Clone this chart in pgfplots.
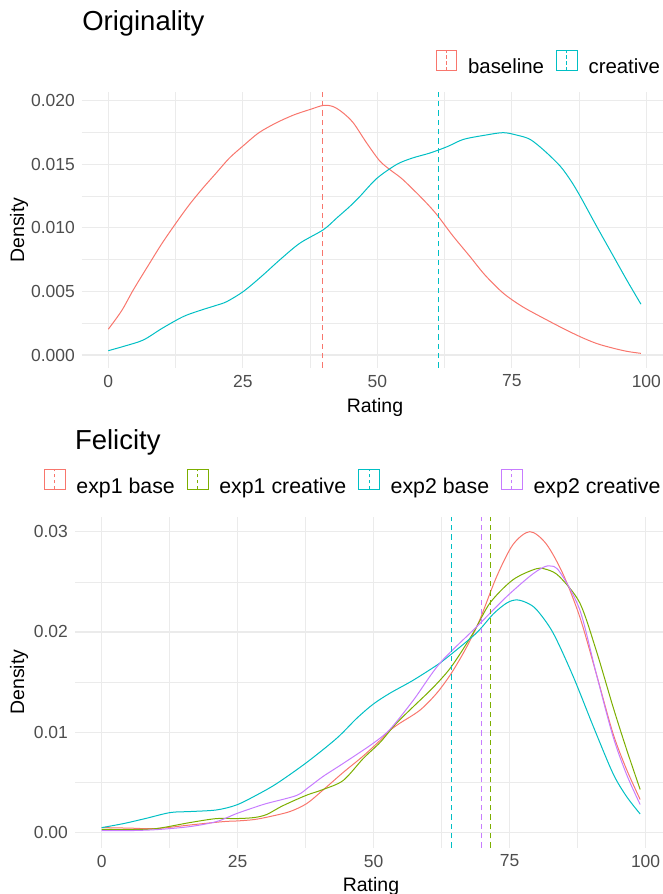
\documentclass[border=0pt]{standalone}
\usepackage{pgfplots}
\pgfplotsset{compat=1.18}
\usepackage{fontspec}
\setmainfont{Liberation Sans}
\definecolor{cA}{HTML}{F8766D}
\definecolor{cB}{HTML}{7CAE00}
\definecolor{cC}{HTML}{00BFC4}
\definecolor{cD}{HTML}{C77CFF}
\definecolor{tickgray}{HTML}{4D4D4D}
\definecolor{gridmaj}{HTML}{EBEBEB}
\pgfplotsset{
 gg/.style={
  scale only axis,
  axis line style={draw=none},
  tick style={draw=none},
  grid=both,
  major grid style={color=gridmaj, line width=0.8pt},
  minor grid style={color=gridmaj, line width=0.4pt},
  tick label style={font=\fontsize{13.1}{15}\selectfont, color=tickgray, inner sep=0pt},
  xticklabel style={yshift=-5.2pt},
  yticklabel style={xshift=-5pt},
  scaled y ticks=false,
  xtick={0,25,50,75,100},
  xticklabels={0,25,50,75,100},
  minor xtick={12.5,37.5,62.5,87.5},
  legend columns=-1,
  legend style={draw=none, fill=none, inner sep=0pt, outer sep=0pt,
    font=\fontsize{15.3}{18}\selectfont, legend cell align=left,
    nodes={inner sep=0pt},
    /tikz/every even column/.append style={column sep=9pt},
    /tikz/every odd column/.append style={column sep=8.25pt}},
  legend image code/.code={
    \draw[#1, solid, line width=0.6pt] (0pt,-2.3pt) rectangle (15.5pt,12.7pt);
    \draw[#1, line width=0.6pt, dash pattern=on 2.5pt off 2pt] (7.75pt,-2.3pt) -- (7.75pt,12.7pt);
  },
  every axis plot/.append style={line width=0.75pt},
 }
}
\begin{document}
\begin{tikzpicture}
\path[use as bounding box] (0pt,0pt) rectangle (497.25pt,-670.5pt);

\begin{axis}[gg,
  at={(61.275pt,-69pt)}, anchor=north west,
  width=435.98pt, height=206.78pt,
  xmin=-4.95, xmax=103.1,
  ymin=-0.001, ymax=0.0207,
  ytick={0,0.005,0.01,0.015,0.02},
  yticklabels={0.000,0.005,0.010,0.015,0.020},
  minor ytick={0.0025,0.0075,0.0125,0.0175},
  legend style={at={(rel axis cs:0.9948,1.1052)}, anchor=east},
]
\addplot[cA, smooth] coordinates {
(0,0.00203) (2.5,0.0035) (4.65,0.00513) (7.7,0.00724) (10,0.0088) (12.6,0.0104)
(15,0.0118) (17.5,0.0131) (20,0.0143) (22.5,0.0155) (25,0.01644) (28,0.0175)
(31.3,0.01829) (34.5,0.0189) (37.6,0.01934) (40,0.01965) (41.8,0.01955)
(43.5,0.0191) (45.5,0.01829) (48,0.0167) (50.4,0.0153) (52.3,0.0146) (54.5,0.0139)
(57.3,0.01276) (59.5,0.0118) (61.3,0.01092) (64,0.0094) (67.2,0.00776) (70,0.0063)
(73.4,0.00487) (77,0.0038) (81.5,0.00276) (84.5,0.0021) (87.7,0.00144) (90.8,0.0009)
(93.9,0.00053) (96.5,0.00028) (99,0.00013)};
\addlegendentry{baseline}
\addplot[cC, smooth] coordinates {
(0,0.00034) (3,0.0007) (6.5,0.00118) (10,0.0021) (13.9,0.00302) (17,0.0035) (20,0.0039)
(22,0.0042) (25.1,0.005) (28.5,0.0062) (31.9,0.0075) (35.6,0.0088) (40,0.00987)
(42.5,0.0108) (44.9,0.0117) (46.8,0.0125) (49.9,0.0139) (53.6,0.015) (56.5,0.0155)
(59.8,0.0159) (63,0.0164) (66,0.01697) (70,0.0173) (73.4,0.0175) (76,0.0173)
(78.4,0.01697) (81,0.0161) (84,0.01486) (86,0.0137) (87.7,0.0125) (90.8,0.0101)
(93.9,0.00776) (96.5,0.0058) (99,0.004)};
\addlegendentry{creative}
\addplot[cA, forget plot, line width=0.6pt, dash pattern=on 4pt off 3pt] coordinates {(39.7,-0.001) (39.7,0.0207)};
\addplot[cC, forget plot, line width=0.6pt, dash pattern=on 4pt off 3pt] coordinates {(61.3,-0.001) (61.3,0.0207)};
\end{axis}

\begin{axis}[gg,
  at={(56.1pt,-387.45pt)}, anchor=north west,
  width=441.15pt, height=248.3pt,
  xmin=-4.95, xmax=103.2,
  ymin=-0.0015, ymax=0.0315,
  ytick={0,0.01,0.02,0.03},
  yticklabels={0.00,0.01,0.02,0.03},
  minor ytick={0.005,0.015,0.025},
  legend style={at={(rel axis cs:-0.0524,1.1045)}, anchor=west, font=\fontsize{16}{19}\selectfont},
]
\addplot[cA, smooth] coordinates {
(0,0.0005) (5,0.00045) (10,0.0004) (16.2,0.00076) (22.4,0.0011) (24.8,0.00116) (28,0.0013)
(30.9,0.0016) (34.6,0.0021) (37.7,0.0029) (40.7,0.00425) (44.4,0.0060) (48,0.0076)
(51.2,0.0092) (53,0.0102) (54.8,0.0109) (58.5,0.0122) (61.6,0.0139) (64.3,0.0159)
(67.1,0.0185) (69.5,0.0212) (72.6,0.0255) (75.6,0.0287) (78.7,0.030) (81.7,0.0288)
(84.8,0.0258) (87.9,0.0215) (90.9,0.0159) (94,0.0099) (96.5,0.0063) (99,0.0033)};
\addlegendentry{exp1 base}
\addplot[cB, smooth] coordinates {
(0,0.00033) (5,0.0003) (10,0.0004) (16.2,0.001) (21.1,0.0014) (24.8,0.0014) (28,0.0015)
(30.3,0.0018) (33,0.0026) (35.8,0.0033) (38,0.0038) (40.7,0.0043) (44.4,0.0052)
(48.1,0.0074) (51.2,0.0090) (54,0.0108) (57.3,0.01256) (61,0.0145) (64.3,0.01655)
(68.3,0.0199) (71.4,0.0229) (75.6,0.0252) (79.9,0.0263) (82,0.0262) (84.2,0.0255)
(87.9,0.0229) (90.9,0.0182) (94,0.01256) (96.5,0.0083) (99,0.0043)};
\addlegendentry{exp1 creative}
\addplot[cC, smooth] coordinates {
(0,0.0005) (4,0.0009) (8,0.0014) (12.6,0.002) (16.2,0.0021) (21.1,0.00226) (24.8,0.00276)
(28.5,0.00375) (32.2,0.0049) (37.7,0.0070) (43.2,0.0094) (46.9,0.0114) (49.9,0.0128)
(53,0.0139) (57.3,0.0152) (62.2,0.0169) (64.3,0.0178) (68.9,0.0199) (72,0.0218)
(74.5,0.0229) (76.3,0.0232) (78.2,0.0229) (80,0.0222) (83,0.0199) (86.7,0.01555)
(90.4,0.01056) (94,0.0059) (96.5,0.0036) (99,0.00186)};
\addlegendentry{exp2 base}
\addplot[cD, smooth] coordinates {
(0,0.0002) (5,0.0002) (10.1,0.0003) (16.2,0.0006) (21.1,0.0011) (24.8,0.0019) (28,0.0025)
(30.3,0.0029) (35.8,0.0037) (38,0.0045) (40.7,0.0056) (44.4,0.0069) (49.9,0.0089)
(53,0.0103) (57.3,0.0132) (62.2,0.0169) (68.9,0.0205) (74.4,0.0235) (79.3,0.0258)
(82.1,0.0266) (84.2,0.026) (87.9,0.0222) (90.9,0.0159) (94,0.0096) (96.5,0.0058) (99,0.0028)};
\addlegendentry{exp2 creative}
\addplot[cA, forget plot, line width=0.6pt, dash pattern=on 4pt off 3pt] coordinates {(71.5,-0.0015) (71.5,0.0315)};
\addplot[cB, forget plot, line width=0.6pt, dash pattern=on 4pt off 3pt] coordinates {(71.5,-0.0015) (71.5,0.0315)};
\addplot[cC, forget plot, line width=0.6pt, dash pattern=on 4pt off 3pt] coordinates {(64.3,-0.0015) (64.3,0.0315)};
\addplot[cD, forget plot, line width=0.6pt, dash pattern=on 4pt off 3pt] coordinates {(69.9,-0.0015) (69.9,0.0315)};
\end{axis}

\node[anchor=base west, inner sep=0pt, font=\fontsize{20.6}{24}\selectfont] at (61.5pt,-23.025pt) {Originality};
\node[anchor=base west, inner sep=0pt, font=\fontsize{20.6}{24}\selectfont] at (56.1pt,-336.75pt) {Felicity};
\node[anchor=base, inner sep=0pt, font=\fontsize{14.6}{17}\selectfont] at (281.25pt,-309.225pt) {Rating};
\node[anchor=base, inner sep=0pt, font=\fontsize{14.6}{17}\selectfont] at (278.25pt,-668.25pt) {Rating};
\node[anchor=base, rotate=90, inner sep=0pt, font=\fontsize{14.6}{17}\selectfont] at (18pt,-172.5pt) {Density};
\node[anchor=base, rotate=90, inner sep=0pt, font=\fontsize{14.6}{17}\selectfont] at (18pt,-511.5pt) {Density};
\end{tikzpicture}
\end{document}
